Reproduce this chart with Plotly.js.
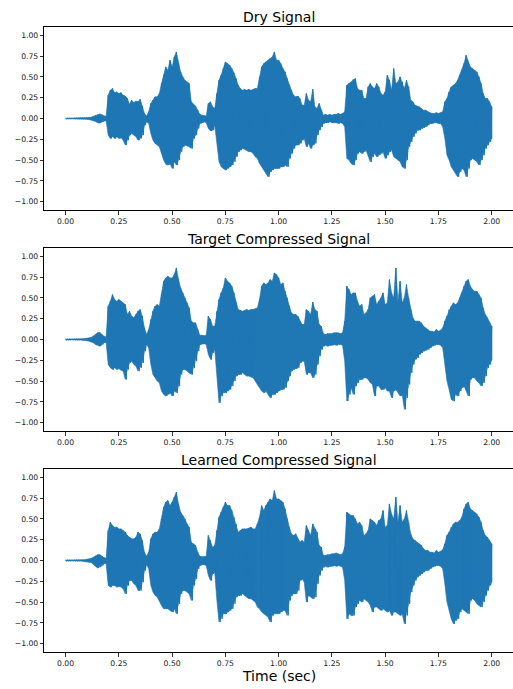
<!DOCTYPE html>
<html>
<head>
<meta charset="utf-8">
<script src="https://cdn.plot.ly/plotly-3.0.1.min.js"></script>
<style>html,body{margin:0;padding:0;background:#fff;}#chart{width:513px;height:689px;}</style>
</head>
<body>
<div id="chart"></div>
<script>
// Sample times (sec), one envelope reading every 0.01 s
const times = Array.from({length: 201}, (_, i) => +(i / 100).toFixed(2));

const titles = ["Dry Signal", "Target Compressed Signal", "Learned Compressed Signal"];
const xTickVals = [0, 0.25, 0.5, 0.75, 1.0, 1.25, 1.5, 1.75, 2.0];
const yTickVals = [-1, -0.75, -0.5, -0.25, 0, 0.25, 0.5, 0.75, 1.0];
const xLabel = "Time (sec)";

// Dry signal: upper / lower envelope
const dryTop = [
0.004,0.004,0.004,0.004,0.005,0.005,0.005,0.006,0.006,0.008,
0.01,0.012,0.015,0.025,0.035,0.045,0.055,0.045,0.03,0.025,
0.28,0.34,0.36,0.31,0.32,0.30,0.31,0.28,0.27,0.24,
0.17,0.22,0.19,0.21,0.20,0.23,0.15,0.06,0.03,0.08,
0.18,0.22,0.26,0.26,0.30,0.42,0.52,0.62,0.58,0.70,
0.62,0.74,0.80,0.66,0.56,0.50,0.46,0.44,0.42,0.20,
0.17,0.15,0.10,0.05,0.04,0.035,0.03,0.18,0.20,0.14,
0.12,0.30,0.46,0.52,0.60,0.68,0.66,0.64,0.60,0.55,
0.48,0.40,0.36,0.34,0.35,0.34,0.35,0.34,0.35,0.36,
0.36,0.50,0.62,0.66,0.68,0.70,0.72,0.74,0.80,0.70,
0.70,0.66,0.60,0.56,0.48,0.40,0.34,0.28,0.26,0.27,
0.24,0.16,0.16,0.30,0.22,0.20,0.35,0.14,0.12,0.18,
0.10,0.04,0.05,0.04,0.05,0.04,0.05,0.05,0.06,0.05,
0.06,0.08,0.40,0.42,0.44,0.47,0.48,0.36,0.34,0.34,
0.24,0.24,0.38,0.42,0.38,0.36,0.42,0.38,0.30,0.28,
0.32,0.52,0.46,0.34,0.60,0.42,0.44,0.50,0.44,0.36,
0.46,0.38,0.22,0.20,0.16,0.15,0.14,0.12,0.10,0.10,
0.08,0.07,0.06,0.06,0.07,0.06,0.07,0.08,0.20,0.24,
0.32,0.38,0.40,0.42,0.46,0.52,0.58,0.66,0.76,0.68,
0.62,0.60,0.58,0.56,0.50,0.42,0.30,0.24,0.24,0.20,
0.14];
const dryBottom = [
-0.004,-0.004,-0.004,-0.004,-0.005,-0.005,-0.005,-0.006,-0.006,-0.008,
-0.01,-0.012,-0.015,-0.025,-0.035,-0.05,-0.055,-0.04,-0.03,-0.025,
-0.20,-0.24,-0.22,-0.24,-0.22,-0.24,-0.23,-0.26,-0.32,-0.26,
-0.20,-0.18,-0.20,-0.22,-0.26,-0.24,-0.20,-0.08,-0.04,-0.06,
-0.18,-0.26,-0.30,-0.32,-0.34,-0.42,-0.50,-0.55,-0.56,-0.54,
-0.60,-0.52,-0.56,-0.50,-0.40,-0.34,-0.32,-0.33,-0.34,-0.36,
-0.24,-0.20,-0.12,-0.06,-0.05,-0.04,-0.05,-0.12,-0.15,-0.14,
-0.08,-0.30,-0.52,-0.58,-0.60,-0.62,-0.60,-0.58,-0.56,-0.52,
-0.46,-0.40,-0.38,-0.36,-0.37,-0.38,-0.40,-0.40,-0.42,-0.46,
-0.48,-0.54,-0.58,-0.62,-0.66,-0.70,-0.64,-0.62,-0.60,-0.60,
-0.60,-0.58,-0.58,-0.56,-0.58,-0.48,-0.42,-0.36,-0.32,-0.32,
-0.30,-0.26,-0.24,-0.34,-0.30,-0.36,-0.32,-0.30,-0.20,-0.14,
-0.10,-0.06,-0.05,-0.05,-0.04,-0.05,-0.05,-0.05,-0.06,-0.05,
-0.06,-0.10,-0.48,-0.50,-0.54,-0.56,-0.50,-0.42,-0.40,-0.42,
-0.40,-0.38,-0.44,-0.52,-0.46,-0.42,-0.46,-0.44,-0.42,-0.40,
-0.48,-0.44,-0.40,-0.38,-0.46,-0.48,-0.50,-0.52,-0.58,-0.60,
-0.50,-0.34,-0.28,-0.22,-0.18,-0.14,-0.14,-0.12,-0.11,-0.10,
-0.08,-0.06,-0.06,-0.05,-0.05,-0.06,-0.06,-0.10,-0.24,-0.44,
-0.50,-0.58,-0.62,-0.66,-0.70,-0.64,-0.60,-0.62,-0.70,-0.60,
-0.50,-0.48,-0.50,-0.52,-0.56,-0.50,-0.44,-0.36,-0.32,-0.28,
-0.24];

// Target compressed signal
const targetTop = [
0.005,0.005,0.005,0.005,0.006,0.006,0.006,0.007,0.008,0.01,
0.015,0.02,0.025,0.04,0.06,0.08,0.085,0.06,0.04,0.03,
0.40,0.46,0.54,0.48,0.46,0.48,0.46,0.44,0.42,0.30,
0.34,0.28,0.26,0.30,0.34,0.36,0.28,0.14,0.06,0.12,
0.24,0.34,0.40,0.42,0.40,0.54,0.70,0.74,0.76,0.74,
0.74,0.78,0.86,0.72,0.62,0.56,0.50,0.44,0.38,0.22,
0.20,0.20,0.12,0.05,0.05,0.045,0.05,0.28,0.24,0.16,
0.16,0.34,0.48,0.56,0.62,0.74,0.70,0.68,0.64,0.56,
0.44,0.36,0.35,0.34,0.35,0.36,0.35,0.36,0.36,0.37,
0.38,0.48,0.64,0.68,0.66,0.68,0.72,0.70,0.80,0.78,
0.74,0.66,0.68,0.58,0.50,0.40,0.32,0.30,0.30,0.28,
0.22,0.18,0.18,0.36,0.34,0.30,0.45,0.36,0.34,0.18,
0.16,0.07,0.06,0.07,0.07,0.07,0.08,0.08,0.08,0.07,
0.08,0.22,0.64,0.60,0.54,0.56,0.56,0.46,0.40,0.42,
0.30,0.32,0.36,0.50,0.52,0.54,0.42,0.46,0.50,0.56,
0.42,0.44,0.72,0.56,0.50,0.86,0.46,0.70,0.44,0.50,
0.66,0.50,0.36,0.26,0.22,0.22,0.22,0.20,0.16,0.14,
0.12,0.10,0.10,0.09,0.12,0.10,0.11,0.14,0.22,0.28,
0.36,0.40,0.44,0.42,0.44,0.50,0.56,0.64,0.70,0.72,
0.64,0.60,0.58,0.58,0.54,0.50,0.38,0.30,0.26,0.20,
0.16];
const targetBottom = [
-0.005,-0.005,-0.005,-0.005,-0.006,-0.006,-0.006,-0.007,-0.008,-0.01,
-0.015,-0.02,-0.025,-0.04,-0.06,-0.07,-0.08,-0.06,-0.04,-0.03,
-0.30,-0.34,-0.36,-0.34,-0.36,-0.35,-0.37,-0.38,-0.48,-0.36,
-0.28,-0.26,-0.30,-0.32,-0.38,-0.34,-0.28,-0.14,-0.06,-0.10,
-0.30,-0.42,-0.46,-0.50,-0.52,-0.62,-0.66,-0.68,-0.66,-0.64,
-0.68,-0.62,-0.64,-0.56,-0.42,-0.36,-0.36,-0.38,-0.40,-0.42,
-0.34,-0.26,-0.14,-0.06,-0.055,-0.05,-0.06,-0.18,-0.24,-0.16,
-0.12,-0.46,-0.76,-0.68,-0.64,-0.64,-0.62,-0.60,-0.56,-0.50,
-0.44,-0.42,-0.42,-0.40,-0.42,-0.44,-0.44,-0.45,-0.46,-0.50,
-0.54,-0.58,-0.62,-0.64,-0.62,-0.66,-0.70,-0.66,-0.66,-0.64,
-0.62,-0.60,-0.60,-0.58,-0.50,-0.44,-0.38,-0.36,-0.35,-0.34,
-0.28,-0.26,-0.26,-0.42,-0.40,-0.40,-0.46,-0.42,-0.30,-0.20,
-0.12,-0.08,-0.07,-0.08,-0.07,-0.07,-0.06,-0.07,-0.06,-0.06,
-0.07,-0.26,-0.74,-0.66,-0.58,-0.66,-0.56,-0.52,-0.48,-0.48,
-0.46,-0.46,-0.48,-0.52,-0.54,-0.68,-0.56,-0.56,-0.60,-0.60,
-0.58,-0.62,-0.62,-0.70,-0.62,-0.60,-0.64,-0.68,-0.66,-0.84,
-0.70,-0.54,-0.40,-0.30,-0.24,-0.22,-0.18,-0.16,-0.14,-0.13,
-0.12,-0.10,-0.08,-0.07,-0.06,-0.06,-0.07,-0.10,-0.30,-0.50,
-0.60,-0.72,-0.74,-0.66,-0.68,-0.62,-0.58,-0.56,-0.62,-0.68,
-0.48,-0.46,-0.46,-0.50,-0.52,-0.56,-0.52,-0.44,-0.34,-0.30,
-0.25];

// Learned compressed signal
const learnedTop = [
0.005,0.005,0.005,0.005,0.006,0.006,0.006,0.007,0.008,0.01,
0.015,0.02,0.025,0.04,0.055,0.07,0.07,0.05,0.035,0.025,
0.36,0.46,0.42,0.40,0.40,0.38,0.38,0.36,0.34,0.30,
0.28,0.26,0.26,0.28,0.34,0.32,0.24,0.10,0.05,0.10,
0.26,0.32,0.34,0.34,0.38,0.50,0.64,0.70,0.72,0.66,
0.70,0.76,0.82,0.68,0.58,0.54,0.50,0.44,0.40,0.22,
0.20,0.18,0.10,0.05,0.045,0.045,0.05,0.30,0.24,0.16,
0.18,0.36,0.52,0.58,0.64,0.70,0.66,0.66,0.60,0.52,
0.44,0.34,0.36,0.38,0.38,0.38,0.39,0.40,0.38,0.38,
0.44,0.52,0.66,0.60,0.66,0.70,0.74,0.72,0.84,0.74,
0.74,0.72,0.70,0.62,0.50,0.40,0.32,0.30,0.32,0.26,
0.22,0.24,0.22,0.42,0.36,0.30,0.44,0.38,0.34,0.18,
0.16,0.06,0.06,0.07,0.07,0.08,0.08,0.09,0.08,0.07,
0.08,0.16,0.58,0.56,0.54,0.54,0.50,0.44,0.46,0.42,
0.30,0.32,0.36,0.50,0.48,0.46,0.42,0.48,0.50,0.60,
0.40,0.42,0.68,0.56,0.50,0.76,0.46,0.66,0.46,0.50,
0.60,0.46,0.32,0.26,0.24,0.22,0.20,0.18,0.14,0.12,
0.12,0.10,0.10,0.09,0.12,0.10,0.11,0.13,0.20,0.30,
0.34,0.40,0.44,0.46,0.46,0.48,0.52,0.62,0.68,0.70,
0.62,0.60,0.58,0.56,0.52,0.46,0.36,0.30,0.28,0.24,
0.20];
const learnedBottom = [
-0.005,-0.005,-0.005,-0.005,-0.006,-0.006,-0.006,-0.007,-0.008,-0.01,
-0.015,-0.02,-0.025,-0.045,-0.07,-0.09,-0.08,-0.06,-0.04,-0.03,
-0.30,-0.32,-0.30,-0.30,-0.32,-0.31,-0.32,-0.34,-0.40,-0.30,
-0.24,-0.24,-0.28,-0.30,-0.36,-0.36,-0.26,-0.12,-0.05,-0.10,
-0.30,-0.38,-0.42,-0.44,-0.48,-0.54,-0.58,-0.58,-0.58,-0.60,
-0.62,-0.58,-0.64,-0.52,-0.40,-0.36,-0.36,-0.38,-0.40,-0.48,
-0.30,-0.22,-0.10,-0.06,-0.05,-0.05,-0.06,-0.18,-0.24,-0.16,
-0.14,-0.48,-0.74,-0.70,-0.64,-0.64,-0.62,-0.60,-0.58,-0.52,
-0.44,-0.42,-0.42,-0.40,-0.42,-0.44,-0.46,-0.46,-0.48,-0.50,
-0.56,-0.58,-0.62,-0.64,-0.66,-0.68,-0.74,-0.66,-0.64,-0.64,
-0.64,-0.62,-0.60,-0.60,-0.66,-0.48,-0.42,-0.40,-0.40,-0.36,
-0.24,-0.22,-0.26,-0.50,-0.42,-0.44,-0.46,-0.44,-0.28,-0.18,
-0.12,-0.08,-0.07,-0.08,-0.07,-0.07,-0.06,-0.07,-0.06,-0.07,
-0.08,-0.24,-0.70,-0.64,-0.66,-0.66,-0.56,-0.52,-0.48,-0.50,
-0.46,-0.48,-0.50,-0.54,-0.62,-0.56,-0.56,-0.58,-0.60,-0.58,
-0.60,-0.62,-0.60,-0.66,-0.62,-0.62,-0.64,-0.66,-0.64,-0.76,
-0.66,-0.52,-0.38,-0.30,-0.24,-0.20,-0.18,-0.16,-0.14,-0.12,
-0.12,-0.10,-0.08,-0.07,-0.06,-0.06,-0.07,-0.10,-0.28,-0.50,
-0.58,-0.70,-0.76,-0.72,-0.70,-0.62,-0.58,-0.60,-0.62,-0.64,
-0.48,-0.46,-0.48,-0.52,-0.54,-0.56,-0.50,-0.42,-0.36,-0.30,
-0.26];

const series = [[dryTop, dryBottom], [targetTop, targetBottom], [learnedTop, learnedBottom]];

// Oscillating trace sweeping between the read envelopes
function waveform(top, bottom) {
  const xs = [], ys = [];
  for (let i = 0; i < times.length; i++) {
    xs.push(times[i]); ys.push(top[i]);
    xs.push(i < times.length - 1 ? times[i] + 0.005 : times[i]); ys.push(bottom[i]);
  }
  return {xs, ys};
}
// Closed outline of the envelope, used to fill the dense core
function envelope(top, bottom) {
  const xs = times.concat(times.slice().reverse());
  const ys = top.concat(bottom.slice().reverse());
  return {xs, ys};
}

const H = 689;
const boxes = [[27, 210], [248, 431], [469, 652]];
const titleCenters = [17.5, 238.5, 459.5];
const C = '#1f77b4';

const data = [];
const layout = {
  width: 513, height: 689,
  margin: {l: 0, r: 0, t: 0, b: 0},
  paper_bgcolor: '#fff', plot_bgcolor: '#fff',
  showlegend: false,
  font: {family: 'DejaVu Sans', color: '#000'},
  annotations: []
};

series.forEach((s, k) => {
  const ax = k === 0 ? '' : String(k + 1);
  const e = envelope(s[0], s[1]);
  data.push({
    type: 'scatter', mode: 'lines',
    x: e.xs, y: e.ys, fill: 'toself', fillcolor: C,
    xaxis: 'x' + ax, yaxis: 'y' + ax,
    line: {color: C, width: 0.6},
    hoverinfo: 'skip'
  });
  const w = waveform(s[0], s[1]);
  data.push({
    type: 'scatter', mode: 'lines',
    x: w.xs, y: w.ys,
    xaxis: 'x' + ax, yaxis: 'y' + ax,
    line: {color: C, width: 1},
    hoverinfo: 'skip'
  });
  const common = {
    showline: true, mirror: true, linecolor: '#000', linewidth: 1,
    ticks: 'outside', ticklen: 3.5, tickwidth: 0.8, tickcolor: '#000',
    showgrid: false, zeroline: false,
    tickfont: {family: 'DejaVu Sans', size: 7.7, color: '#222'},
    tickformat: '.2f'
  };
  layout['xaxis' + ax] = Object.assign({}, common, {
    domain: [44.3 / 513, 1],
    range: [-0.1, 2.1],
    tickvals: xTickVals,
    anchor: 'y' + ax
  });
  layout['yaxis' + ax] = Object.assign({}, common, {
    domain: [(H - boxes[k][1]) / H, (H - boxes[k][0]) / H],
    range: [-1.1, 1.1],
    tickvals: yTickVals,
    anchor: 'x' + ax
  });
  layout.annotations.push({
    text: titles[k], xref: 'paper', yref: 'paper',
    x: (44.3 + 513.6) / 2 / 513, y: 1 - titleCenters[k] / H,
    xanchor: 'center', yanchor: 'middle', showarrow: false,
    font: {family: 'DejaVu Sans', size: 14, color: '#000'}
  });
});

layout.annotations.push({
  text: xLabel, xref: 'paper', yref: 'paper',
  x: (44.3 + 513.6) / 2 / 513, y: 1 - 675.5 / H,
  xanchor: 'center', yanchor: 'middle', showarrow: false,
  font: {family: 'DejaVu Sans', size: 14, color: '#000'}
});

Plotly.newPlot('chart', data, layout, {staticPlot: true, displayModeBar: false});
</script>
</body>
</html>
